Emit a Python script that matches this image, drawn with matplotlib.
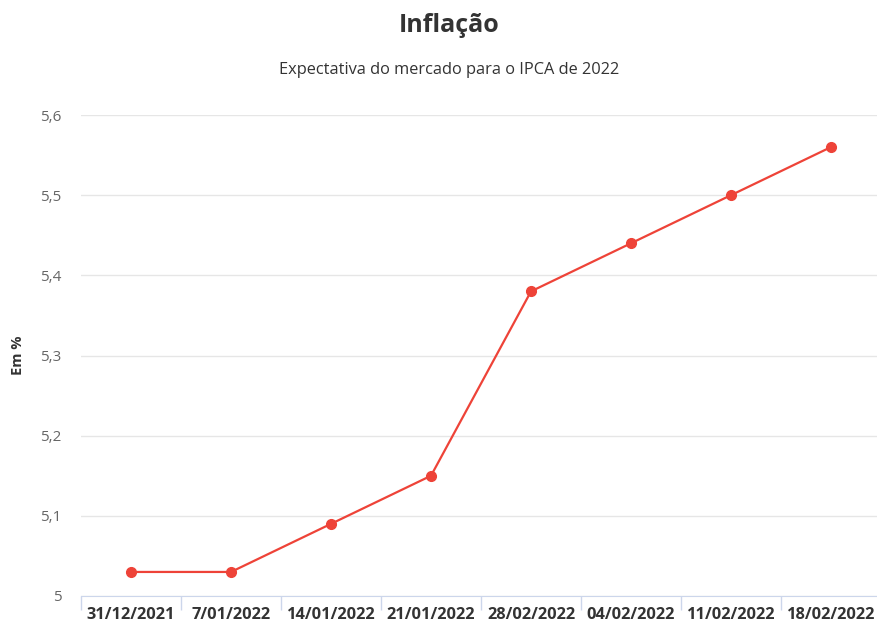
import numpy as np
import matplotlib.pyplot as plt
from matplotlib.ticker import FixedLocator, FuncFormatter

plt.rcParams['font.family'] = ['Open Sans', 'DejaVu Sans']

datas = ['31/12/2021', '7/01/2022', '14/01/2022', '21/01/2022',
         '28/02/2022', '04/02/2022', '11/02/2022', '18/02/2022']
ipca = [5.03, 5.03, 5.09, 5.15, 5.38, 5.44, 5.50, 5.56]

fig = plt.figure(figsize=(8.77, 6.25), dpi=100)
ax = fig.add_axes([81 / 877, 29 / 625, 800 / 877, 481 / 625])

x = np.arange(len(datas))
ax.plot(x, ipca, color='#ee4338', lw=1.6, marker='o', ms=7, zorder=3, clip_on=False)

ax.set_xlim(-0.5, len(datas) - 0.5)
ax.set_ylim(5, 5.6)
ax.set_yticks(np.arange(5, 5.61, 0.1))
ax.yaxis.set_major_formatter(FuncFormatter(lambda v, p: ('%g' % round(v, 1)).replace('.', ',')))
ax.grid(axis='y', color='#e6e6e6', lw=1)
ax.set_axisbelow(True)

# categorias no centro, marcas de divisao entre elas
ax.set_xticks(x)
ax.set_xticklabels(datas, fontweight='bold', color='#333333', fontsize=11.8)
ax.xaxis.set_minor_locator(FixedLocator(np.arange(len(datas)) - 0.5))
ax.tick_params(axis='x', which='major', length=0, pad=8)
ax.tick_params(axis='x', which='minor', length=10, color='#ccd6eb', width=1)
ax.tick_params(axis='y', length=0, labelsize=11, labelcolor='#666666', pad=14)

for s in ['top', 'right', 'left']:
    ax.spines[s].set_visible(False)
ax.spines['bottom'].set_color('#ccd6eb')
ax.spines['bottom'].set_zorder(2)

fig.text(18 / 877, 1 - 355 / 625, 'Em %', rotation=90, ha='center', va='center',
         fontsize=10.5, fontweight='bold', color='#333333')
fig.text(449 / 877, 1 - 26 / 625, 'Inflação', ha='center', va='center',
         fontsize=18, fontweight='bold', color='#333333')
fig.text(449 / 877, 1 - 70 / 625, 'Expectativa do mercado para o IPCA de 2022',
         ha='center', va='center', fontsize=11.8, color='#333333')

fig.savefig('out.png', dpi=100)
